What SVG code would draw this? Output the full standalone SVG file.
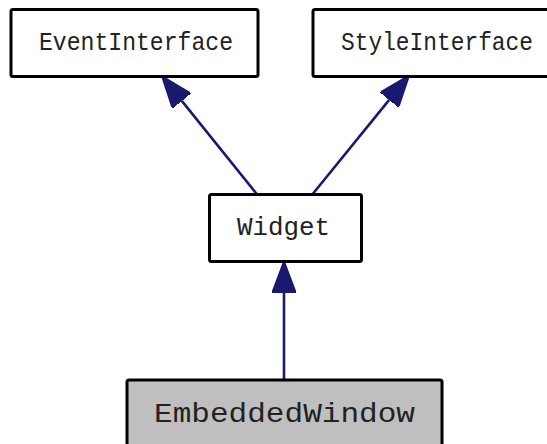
<svg xmlns="http://www.w3.org/2000/svg" width="547" height="444" viewBox="0 0 547 444">
  <style>
    .box { fill: #ffffff; stroke: #000000; stroke-width: 3; }
    .box.current { fill: #bfbfbf; }
    .label { font-family: "Liberation Mono", "Courier New", monospace; fill: #222222; }
    .edge { fill: none; stroke: #191970; stroke-width: 2.6; }
  </style>
  <defs>
    <!-- hollow-less inheritance arrowhead, drawn from its base forward -->
    <marker id="inherit" markerUnits="userSpaceOnUse" viewBox="0 0 32 24" refX="0" refY="12" markerWidth="32" markerHeight="24" orient="auto">
      <path d="M0,0 L32,12 L0,24 Z" fill="#191970" stroke="#191970" stroke-width="1.5" stroke-linejoin="miter"/>
    </marker>
  </defs>

  <rect width="547" height="444" fill="#ffffff"/>

  <g id="connectors">
    <path class="edge" d="M256.7,194 L181.8,100.9" marker-end="url(#inherit)"/>
    <path class="edge" d="M312.7,194 L389.2,99.9" marker-end="url(#inherit)"/>
    <path class="edge" d="M284,380 L284,293" marker-end="url(#inherit)"/>
  </g>

  <g id="node-EventInterface">
    <rect class="box" x="11" y="9.5" width="247" height="67" rx="2"/>
    <text class="label" x="39" y="50" font-size="25" textLength="194" lengthAdjust="spacingAndGlyphs">EventInterface</text>
  </g>

  <g id="node-StyleInterface">
    <rect class="box" x="313" y="9.5" width="247" height="67" rx="2"/>
    <text class="label" x="341" y="50" font-size="25" textLength="192" lengthAdjust="spacingAndGlyphs">StyleInterface</text>
  </g>

  <g id="node-Widget">
    <rect class="box" x="209.5" y="194.5" width="152" height="67" rx="2"/>
    <text class="label" x="237" y="235" font-size="25" textLength="93" lengthAdjust="spacingAndGlyphs">Widget</text>
  </g>

  <g id="node-EmbeddedWindow">
    <rect class="box current" x="127" y="380" width="315" height="67" rx="2"/>
    <text class="label" x="154" y="422" font-size="28" textLength="261" lengthAdjust="spacingAndGlyphs">EmbeddedWindow</text>
  </g>
</svg>
